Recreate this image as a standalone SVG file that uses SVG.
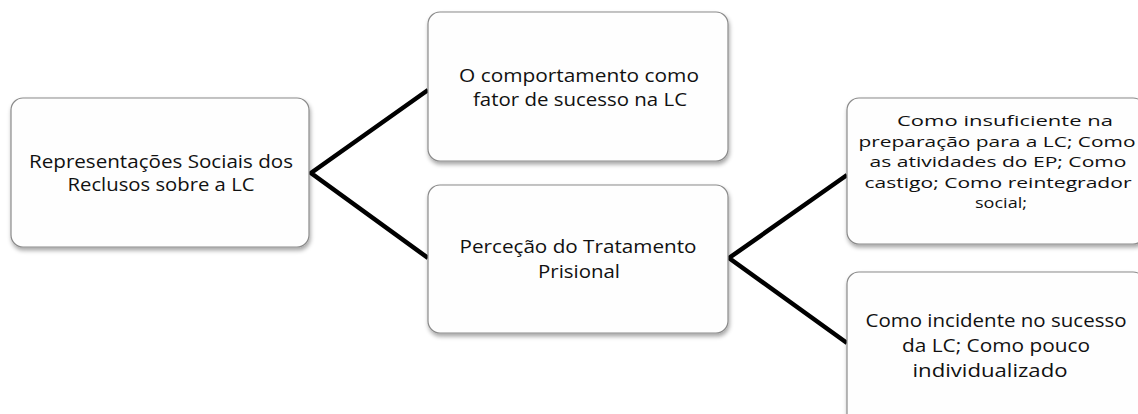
<svg xmlns="http://www.w3.org/2000/svg" width="1138" height="414" viewBox="0 0 1138 414">
<defs>
<filter id="sh" x="-10%" y="-10%" width="120%" height="130%">
<feDropShadow dx="1" dy="3" stdDeviation="2" flood-color="#000" flood-opacity="0.35"/>
</filter>
<style>
.box{fill:#fefefe;stroke:#8a8a8a;stroke-width:1.2;filter:url(#sh)}
.t{font-family:"Open Sans","Liberation Sans",sans-serif;fill:#111;text-anchor:middle;font-size:18px}
.t4{font-size:15px}
.t5{font-size:18.5px}
.con{stroke:#000;stroke-width:4.5;fill:none;stroke-linejoin:miter}
</style>
</defs>
<rect width="1138" height="414" fill="#fff"/>
<g id="connectors">
<polyline class="con" points="428,90 311,173 428,258"/>
<polyline class="con" points="847,175 729,258 847,343"/>
</g>
<g id="n1">
<rect class="box" x="11" y="98" width="298" height="149" rx="12"/>
<text class="t" x="161" y="168" textLength="264" lengthAdjust="spacingAndGlyphs">Representações Sociais dos</text>
<text class="t" x="161" y="191" textLength="187" lengthAdjust="spacingAndGlyphs">Reclusos sobre a LC</text>
</g>
<g id="n2">
<rect class="box" x="428" y="12" width="300" height="149" rx="12"/>
<text class="t" x="579" y="82" textLength="240" lengthAdjust="spacingAndGlyphs">O comportamento como</text>
<text class="t" x="580" y="106" textLength="214" lengthAdjust="spacingAndGlyphs">fator de sucesso na LC</text>
</g>
<g id="n3">
<rect class="box" x="428" y="185" width="300" height="148" rx="12"/>
<text class="t" x="578" y="253" textLength="237" lengthAdjust="spacingAndGlyphs">Perceção do Tratamento</text>
<text class="t" x="579" y="278" textLength="82" lengthAdjust="spacingAndGlyphs">Prisional</text>
</g>
<g id="n4">
<rect class="box" x="847" y="98" width="298" height="146" rx="12"/>
<text class="t t4" x="1005" y="126" textLength="216" lengthAdjust="spacingAndGlyphs">Como insuficiente na</text>
<text class="t t4" x="997" y="147" textLength="277" lengthAdjust="spacingAndGlyphs">preparação para a LC; Como</text>
<text class="t t4" x="998" y="167" textLength="257" lengthAdjust="spacingAndGlyphs">as atividades do EP; Como</text>
<text class="t t4" x="998" y="188" textLength="267" lengthAdjust="spacingAndGlyphs">castigo; Como reintegrador</text>
<text class="t t4" x="1001" y="208" textLength="52" lengthAdjust="spacingAndGlyphs">social;</text>
</g>
<g id="n5">
<rect class="box" x="847" y="272" width="298" height="160" rx="12"/>
<text class="t t5" x="996" y="327" textLength="261" lengthAdjust="spacingAndGlyphs">Como incidente no sucesso</text>
<text class="t t5" x="996" y="352" textLength="188" lengthAdjust="spacingAndGlyphs">da LC; Como pouco</text>
<text class="t t5" x="990" y="377" textLength="155" lengthAdjust="spacingAndGlyphs">individualizado</text>
</g>
</svg>
